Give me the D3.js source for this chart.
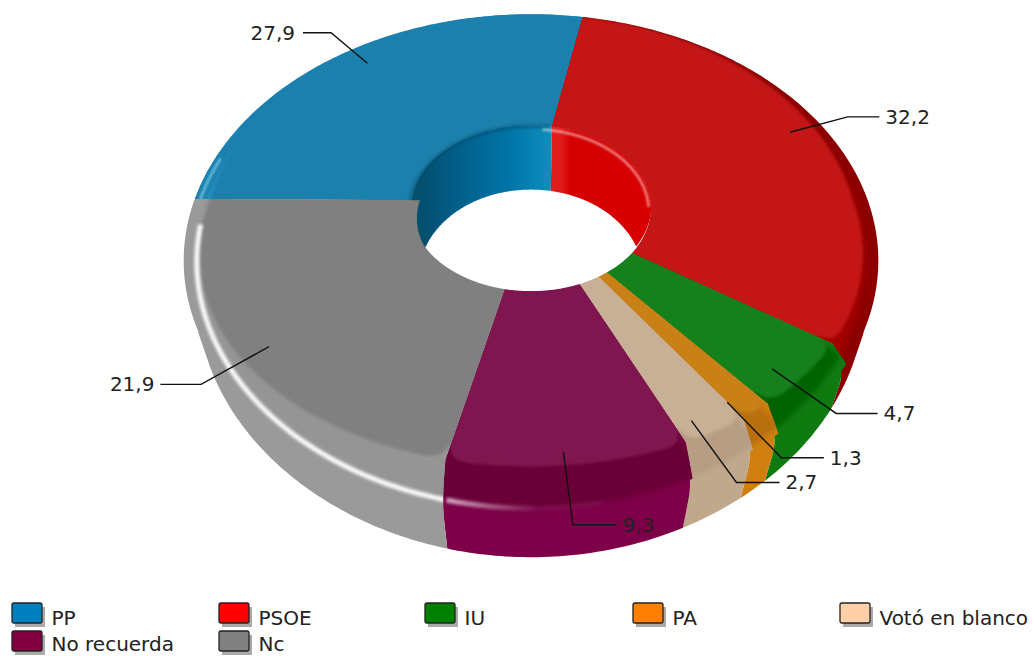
<!DOCTYPE html>
<html><head><meta charset="utf-8">
<script src="https://cdn.jsdelivr.net/npm/d3@7"></script>
<style>html,body{margin:0;padding:0;background:#fff}svg{display:block}text{font-family:"DejaVu Sans",sans-serif;fill:#222}</style>
</head><body><div id="c"></div>
<script>
const categories=["PP","PSOE","IU","PA","Votó en blanco","No recuerda","Nc"];
const values=[27.9,32.2,4.7,1.3,2.7,9.3,21.9];
const legendColors=["#0080c0","#ff0000","#008000","#ff8000","#ffd0a8","#800040","#808080"];
const faceColors=["#1b80ad","#c41613","#17801a","#c98019","#c8b096","#7f1850","#808080"];
const bevelColors=["#30a6d8","#a00000","#006300","#b8700f","#b69d83","#6a0038","#959595"];
const sideColors=["#1b80ad","#8c0000","#0f7a0f","#cf8010","#c0a88c","#7d0048","#9a9a9a"];
const wallStops=[["#03506f","#03577f","#0075a8","#0e8fbd"],["#e01c1c","#d40000","#d80000","#d80000"],["#006300","#006300","#006300","#006300"],["#b8700f","#b8700f","#b8700f","#b8700f"],["#b69d83","#b69d83","#b69d83","#b69d83"],["#6a0038","#6a0038","#6a0038","#6a0038"],["#555","#555","#555","#555"]];
const legendCols=[12,219,425,633,840],legendRows=[603,631];

const W=1033,H=656,cx=531,cy=201,R=337,Ry=232,p=0.242,rHole=0.355,zSide=38,zHole=70,Yv=1300;
const sx=d3.scaleLinear().domain([-1,1]).range([cx-R,cx+R]);
const sy=d3.scaleLinear().domain([-1,1]).range([cy-Ry,cy+Ry]);
const rad=Math.PI/180;
function pt(r,a,z=0){
  const u=r*Math.sin(a),v=r*Math.cos(a),w=1+p*v;
  const base=sy(-v/w),y=base+z/w,x=sx(u/w);
  return [cx+(x-cx)*(Yv-y)/(Yv-base),y];
}
const line=d3.line();
const arcPts=(r,a0,a1,z)=>{
  const n=Math.max(2,Math.ceil(Math.abs(a1-a0)/(0.75*rad)));
  return d3.range(n+1).map(i=>{const a=a0+(a1-a0)*i/n;
    return pt(typeof r==="function"?r(a):r,a,typeof z==="function"?z(a):(z||0));});
};
const rFace=a=>{const v=Math.cos(a);return v>0?0.955+0.045*v:0.955+0.005*v;};
const zFace=a=>-16*Math.max(0,-Math.cos(a));
const rHi=()=>0.97;
const zHi=a=>5+5*Math.abs(Math.min(0,Math.cos(a)));
// rim profile: from the edge of the face, round the shoulder, down the side
const profR=t=>a=>rFace(a)+(1-rFace(a))*Math.min(1,Math.sin(Math.min(1,t/0.55)*Math.PI/2));
const profZ=t=>a=>zFace(a)+(zSide-zFace(a))*t;
const tSteps=d3.range(0,1.0001,1/12);
const pie=d3.pie().sort(null).startAngle(-89.5*rad).endAngle(270.5*rad)(values);

const svg=d3.select("#c").append("svg").attr("width",W).attr("height",H);
const defs=svg.append("defs");
[["b1",1.5],["b2",2.5],["b3",3],["b05",.8]].forEach(([id,s])=>defs.append("filter").attr("id",id)
  .attr("filterUnits","userSpaceOnUse").attr("x",0).attr("y",0).attr("width",W).attr("height",H)
  .append("feGaussianBlur").attr("stdDeviation",s));
const g=svg.append("g");
pie.forEach((d,i)=>{
  const a0=d.startAngle,a1=d.endAngle,e=3*rad;
  const cp=defs.append("clipPath").attr("id","s"+i);
  cp.append("path").attr("d",line([...arcPts(rFace,a0,a1,zFace),...arcPts(rHole,a1,a0,0)])+"Z");
  tSteps.slice(1).forEach((t,k)=>{
    const t0=tSteps[k];
    cp.append("path").attr("d",line([...arcPts(profR(t0),a0,a1,profZ(t0)),...arcPts(profR(t),a1,a0,profZ(t))])+"Z");
  });
  // the flat rim above the profile on the far side
  cp.append("path").attr("d",line([...arcPts(1,a0,a1,0),...arcPts(rFace,a1,a0,zFace)])+"Z");
  const sg=g.append("g").attr("clip-path",`url(#s${i})`);
  sg.append("path").attr("d",line([[0,0],[W,0],[W,H],[0,H]])+"Z").attr("fill",sideColors[i]);
  // bevel band
  sg.append("path").attr("d",line([...arcPts(rHi,a0-e,a1+e,zHi),...arcPts(rHole,a1+e,a0-e,0)])+"Z")
    .attr("fill",bevelColors[i]).attr("filter","url(#b2)");
  // face, with its outer corners rounded where the rim faces the viewer
  const span=a1-a0,dl=Math.min(3*rad,span/2);
  const rRound=a=>{
    const near=Math.max(0,Math.min(1,-2*Math.cos(a)));
    const t=Math.min(1,Math.min(a-a0,a1-a)/dl);
    const drop=t>=0?0.04*(1-Math.sqrt(Math.max(0,1-(1-t)*(1-t)))):0.04;
    return rFace(a)-near*drop;
  };
  sg.append("path").attr("d",line([...arcPts(rRound,a0-e,a1+e,zFace),...arcPts(rHole*0.8,a1+e,a0-e,0)])+"Z")
    .attr("fill",faceColors[i]).attr("filter","url(#b1)");
  // rim highlight
  if(categories[i]==="Nc"){
    sg.append("path").attr("d",line(arcPts(rHi,a0,a1-5*rad,zHi))).attr("fill","none").attr("stroke","#fff")
      .attr("stroke-width",5).attr("stroke-opacity",.95).attr("filter","url(#b1)");
  }
  if(categories[i]==="No recuerda"){
    const gr=defs.append("linearGradient").attr("id","hl").attr("gradientUnits","userSpaceOnUse")
      .attr("x1",sx(-0.27)).attr("x2",sx(0.02)).attr("y1",0).attr("y2",0);
    gr.append("stop").attr("offset",0).attr("stop-color","#fff").attr("stop-opacity",.7);
    gr.append("stop").attr("offset",1).attr("stop-color","#fff").attr("stop-opacity",.05);
    sg.append("path").attr("d",line(arcPts(rHi,a1,a0+12*rad,zHi))).attr("fill","none").attr("stroke","url(#hl)")
      .attr("stroke-width",5).attr("filter","url(#b1)");
  }
  if(categories[i]==="PP"){
    sg.append("path").attr("d",line(arcPts(0.985,a0,a0+11*rad,1))).attr("fill","none").attr("stroke","#8fdcf5")
      .attr("stroke-opacity",.7).attr("stroke-width",2.5).attr("filter","url(#b05)");
  }
});
// inner wall of the hole
const holeTop=arcPts(rHole,0,360*rad,0),holeBot=arcPts(rHole,0,360*rad,zHole);
defs.append("clipPath").attr("id","hc").append("path").attr("d",line(holeTop)+"Z");
const hg=svg.append("g").attr("clip-path","url(#hc)");
pie.forEach((d,i)=>{
  const a0=d.startAngle,a1=d.endAngle;
  const P=[...arcPts(rHole,a0,a1,-2),...arcPts(rHole,a1,a0,zHole+4)];
  const xs=P.map(q=>q[0]);
  const gr=defs.append("linearGradient").attr("id","w"+i).attr("gradientUnits","userSpaceOnUse")
    .attr("x1",d3.min(xs)).attr("x2",d3.max(xs)).attr("y1",0).attr("y2",0);
  wallStops[i].forEach((c,k)=>gr.append("stop").attr("offset",[0.1,0.2,0.7,1][k]).attr("stop-color",c));
  hg.append("path").attr("d",line(P)+"Z").attr("fill",`url(#w${i})`);
});
hg.append("path").attr("d",line(holeBot)+"Z").attr("fill","#fff");
// rim shading and sheen
svg.append("path").attr("d",line(arcPts(rHole+0.004,-89*rad,10*rad,2))).attr("fill","none").attr("stroke","#024a6a")
  .attr("stroke-opacity",.5).attr("stroke-width",4).attr("filter","url(#b1)");
svg.append("path").attr("d",line(arcPts(rHole-0.006,6*rad,92*rad,3))).attr("fill","none").attr("stroke","#fff")
  .attr("stroke-opacity",.6).attr("stroke-width",2.2).attr("filter","url(#b05)");
// the Nc face swelling over the hole edge
const last=pie[pie.length-1];
const rise=a=>rHole-0.025*Math.max(0,(a-(last.endAngle-31*rad))/(31*rad));
svg.append("path").attr("d",line([...arcPts(rHole+0.03,last.endAngle-31*rad,last.endAngle,0),...arcPts(rise,last.endAngle,last.endAngle-31*rad,0)])+"Z")
  .attr("fill",faceColors[6]);

// leader lines and value labels
pie.forEach((d,i)=>{
  const m=(d.startAngle+d.endAngle)/2,v=Math.cos(m),side=Math.sin(m)>=0?1:-1;
  const A=pt(0.88+0.02*v,m,0),B=pt(v>0?1.075+0.08*v:1.072+0.025*v,m,0);
  const leg=35-9*v,C=[B[0]+side*leg,B[1]];
  svg.append("path").attr("d",line([A,B,C])).attr("fill","none").attr("stroke","#111").attr("stroke-width",1.4);
  svg.append("text").attr("x",C[0]+side*(v>0&&side<0?8:6)).attr("y",B[1]+7).attr("text-anchor",side>0?"start":"end")
    .attr("font-size",20).text(String(values[i]).replace(".",","));
});
// legend
categories.forEach((c,i)=>{
  const x=legendCols[i%5],row=Math.floor(i/5),y=legendRows[row];
  svg.append("rect").attr("x",x+3).attr("y",y+4).attr("width",30).attr("height",20).attr("fill","#aaa");
  svg.append("rect").attr("x",x).attr("y",y).attr("width",30).attr("height",20).attr("rx",2)
    .attr("fill",legendColors[i]).attr("stroke","#222").attr("stroke-width",1.3);
  svg.append("text").attr("x",x+39.5).attr("y",y+(row?20:22)).attr("font-size",20).text(c);
});
</script></body></html>
